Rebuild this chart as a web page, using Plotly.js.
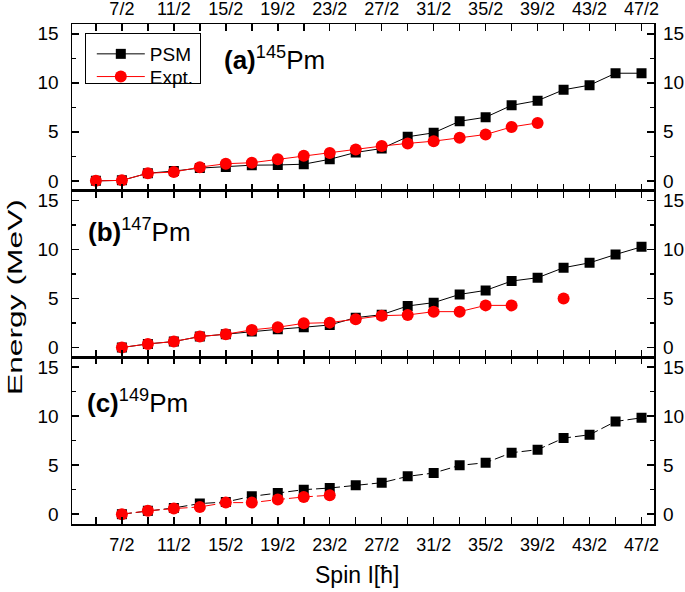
<!DOCTYPE html>
<html>
<head>
<meta charset="utf-8">
<script src="https://cdn.plot.ly/plotly-3.0.1.min.js"></script>
<style>html,body{margin:0;padding:0;background:#fff;}</style>
</head>
<body>
<div id="chart" style="width:685px;height:592px;"></div>
<script>
// ---- data ----
const spinA = [2.5,3.5,4.5,5.5,6.5,7.5,8.5,9.5,10.5,11.5,12.5,13.5,14.5,15.5,16.5,17.5,18.5,19.5,20.5,21.5,22.5,23.5];
const psmA  = [0,0.05,0.78,1.0,1.3,1.42,1.6,1.62,1.7,2.2,2.9,3.3,4.5,4.9,6.08,6.49,7.7,8.18,9.29,9.76,10.98,10.98];
const spinExptA = [2.5,3.5,4.5,5.5,6.5,7.5,8.5,9.5,10.5,11.5,12.5,13.5,14.5,15.5,16.5,17.5,18.5,19.5];
const exptA = [0,0.05,0.78,0.9,1.4,1.75,1.85,2.2,2.55,2.85,3.2,3.55,3.82,4.05,4.39,4.73,5.5,5.91];

const spinB = [3.5,4.5,5.5,6.5,7.5,8.5,9.5,10.5,11.5,12.5,13.5,14.5,15.5,16.5,17.5,18.5,19.5,20.5,21.5,22.5,23.5];
const psmB  = [0,0.37,0.61,1.12,1.36,1.63,1.86,2.07,2.3,3.05,3.35,4.24,4.58,5.42,5.83,6.78,7.12,8.14,8.64,9.49,10.27];
const spinExptB = [3.5,4.5,5.5,6.5,7.5,8.5,9.5,10.5,11.5,12.5,13.5,14.5,15.5,16.5,17.5,18.5,19.5,20.5];
const exptB = [0,0.37,0.61,1.12,1.36,1.8,2.07,2.47,2.54,2.88,3.25,3.32,3.66,3.66,4.3,4.3,null,5.0];

const spinC = [3.5,4.5,5.5,6.5,7.5,8.5,9.5,10.5,11.5,12.5,13.5,14.5,15.5,16.5,17.5,18.5,19.5,20.5,21.5,22.5,23.5];
const psmC  = [0,0.34,0.64,1.08,1.25,1.82,2.16,2.5,2.67,2.95,3.21,3.86,4.2,4.98,5.25,6.27,6.58,7.76,8.1,9.46,9.83];
const spinExptC = [3.5,4.5,5.5,6.5,7.5,8.5,9.5,10.5,11.5];
const exptC = [0,0.34,0.57,0.74,1.18,1.18,1.49,1.76,1.93];

const spinTickVals = [3.5,5.5,7.5,9.5,11.5,13.5,15.5,17.5,19.5,21.5,23.5];
const spinTickText = ['7/2','11/2','15/2','19/2','23/2','27/2','31/2','35/2','39/2','43/2','47/2'];
const energyTickVals = [0,5,10,15];
const panelLabels = ['<b>(a)</b><sup>145</sup>Pm','<b>(b)</b><sup>147</sup>Pm','<b>(c)</b><sup>149</sup>Pm'];
const seriesNames = ['PSM','Expt.'];

// ---- styling ----
const FONT = 'Liberation Sans, Arial, sans-serif';
const psmStyle = (dash, show) => ({mode:'lines+markers', name:seriesNames[0], showlegend:show,
  line:{color:'#000', width:1, dash:dash}, marker:{symbol:'square', size:10, color:'#000'}});
const exptStyle = (dash, show) => ({mode:'lines+markers', name:seriesNames[1], showlegend:show,
  line:{color:'#ff0000', width:1, dash:dash}, marker:{symbol:'circle', size:12, color:'#ff0000'}});

const traces = [
  Object.assign({x:spinA, y:psmA, xaxis:'x', yaxis:'y'}, psmStyle('solid', true)),
  Object.assign({x:spinExptA, y:exptA, xaxis:'x', yaxis:'y'}, exptStyle('solid', true)),
  Object.assign({x:spinB, y:psmB, xaxis:'x2', yaxis:'y2'}, psmStyle('solid', false)),
  Object.assign({x:spinExptB, y:exptB, xaxis:'x2', yaxis:'y2', connectgaps:false}, exptStyle('solid', false)),
  Object.assign({x:spinC, y:psmC, xaxis:'x3', yaxis:'y3'}, psmStyle('10px,4px', false)),
  Object.assign({x:spinExptC, y:exptC, xaxis:'x3', yaxis:'y3'}, exptStyle('10px,4px', false)),
  {x:[null], y:[null], xaxis:'x', yaxis:'y4', showlegend:false, hoverinfo:'skip', mode:'markers'},
  {x:[null], y:[null], xaxis:'x2', yaxis:'y5', showlegend:false, hoverinfo:'skip', mode:'markers'},
  {x:[null], y:[null], xaxis:'x3', yaxis:'y6', showlegend:false, hoverinfo:'skip', mode:'markers'}
];

const XR = [1.58, 23.98];
const YR = [-1, 16];
function xax(anchor, side, labels, standoff){
  return {anchor:anchor, side:side, range:XR, domain:[0,1], showline:true, linecolor:'#000', linewidth:1.5,
    mirror:'allticks', ticks:'inside', ticklen:7, tickwidth:1.5, tickcolor:'#000',
    tickmode:'array', tickvals:spinTickVals, ticktext:spinTickText, showticklabels:labels,
    minor:{tickmode:'linear', tick0:2.5, dtick:1, ticks:'inside', ticklen:4, tickwidth:1.5, tickcolor:'#000'},
    showgrid:false, zeroline:false, tickfont:{family:FONT, size:18, color:'#000'}, ticklabelstandoff:standoff};
}
function yax(anchor, dom){
  return {anchor:anchor, domain:dom, range:YR, showline:true, linecolor:'#000', linewidth:1.5,
    mirror:'allticks', ticks:'inside', ticklen:7, tickwidth:1.5, tickcolor:'#000',
    tickmode:'array', tickvals:energyTickVals,
    minor:{tickmode:'linear', tick0:0, dtick:2.5, ticks:'inside', ticklen:4, tickwidth:1.5, tickcolor:'#000'},
    showgrid:false, zeroline:false, tickfont:{family:FONT, size:19, color:'#000'}, ticklabelstandoff:8};
}
function yaxR(over, anchor){
  return {overlaying:over, anchor:anchor, side:'right', range:YR, showline:false, ticks:'',
    tickmode:'array', tickvals:energyTickVals, showgrid:false, zeroline:false,
    tickfont:{family:FONT, size:19, color:'#000'}, ticklabelstandoff:8};
}

const layout = {
  width:685, height:592,
  margin:{l:72, r:31, t:24, b:67.5},
  paper_bgcolor:'#fff', plot_bgcolor:'#fff',
  font:{family:FONT, color:'#000'},
  xaxis: xax('y','top',true,0),
  xaxis2: xax('y2','bottom',false,0),
  xaxis3: xax('y3','bottom',true,4),
  yaxis: yax('x',[2/3,1]),
  yaxis2: yax('x2',[1/3,2/3]),
  yaxis3: yax('x3',[0,1/3]),
  yaxis4: yaxR('y','x'),
  yaxis5: yaxR('y2','x2'),
  yaxis6: yaxR('y3','x3'),
  showlegend:true,
  legend:{x:0.022, y:0.982, xanchor:'left', yanchor:'top', bgcolor:'#fff', bordercolor:'#000', borderwidth:1,
    font:{family:FONT, size:19, color:'#000'}, itemwidth:48, tracegroupgap:0},
  annotations:[
    {text:panelLabels[0], xref:'paper', yref:'paper', x:0.2576, y:0.930, xanchor:'left', yanchor:'middle', showarrow:false, font:{family:FONT, size:26, color:'#000'}},
    {text:panelLabels[1], xref:'paper', yref:'paper', x:0.024, y:0.588, xanchor:'left', yanchor:'middle', showarrow:false, font:{family:FONT, size:26, color:'#000'}},
    {text:panelLabels[2], xref:'paper', yref:'paper', x:0.022, y:0.245, xanchor:'left', yanchor:'middle', showarrow:false, font:{family:FONT, size:26, color:'#000'}},
    {text:'Energy (MeV)', xref:'paper', yref:'paper', x:-0.0979, y:0.4545, xanchor:'center', yanchor:'middle', textangle:-90, showarrow:false, font:{family:FONT, size:21, color:'#000'}},
    {text:'Spin I[ħ]', xref:'paper', yref:'paper', x:(357-72)/582.3, y:-(576-524.5)/500.5, xanchor:'center', yanchor:'middle', showarrow:false, font:{family:FONT, size:23, color:'#000'}}
  ]
};

function parseT(tr){
  const m = /translate\(\s*([-\d.e]+)[ ,]+([-\d.e]+)\s*\)/.exec(tr || '');
  return m ? [parseFloat(m[1]), parseFloat(m[2])] : [0,0];
}

Plotly.newPlot('chart', traces, layout, {displayModeBar:false, staticPlot:true}).then(() => {
  // stretch the y title like the reference
  document.querySelectorAll('.annotation-text').forEach(t => {
    if (t.textContent === 'Energy (MeV)') {
      const b = t.getBBox();
      const cx = b.x + b.width/2, cy = b.y + b.height/2;
      const s = 196 / b.width;
      const prev = t.getAttribute('transform') || '';
      t.setAttribute('transform', prev + ` translate(${cx},${cy}) scale(${s},1) translate(${-cx},${-cy})`);
    }
  });
  // tighten legend rows to match reference spacing
  const leg = document.querySelector('.legend');
  if (leg) {
    const sb = leg.querySelector('.scrollbox');
    if (sb) sb.removeAttribute('clip-path');
    const items = leg.querySelectorAll('.traces');
    if (items.length === 2) {
      const p0 = parseT(items[0].getAttribute('transform'));
      const p1 = parseT(items[1].getAttribute('transform'));
      const rowGap = 22.7;
      items[0].setAttribute('transform', `translate(${p0[0] + 6},${p0[1] + 1})`);
      items[1].setAttribute('transform', `translate(${p1[0] + 6},${p0[1] + 1 + rowGap})`);
      const bg = leg.querySelector('rect.bg');
      if (bg) {
        bg.setAttribute('height', 50);
        bg.setAttribute('width', 115);
      }
    }
  }
});
</script>
</body>
</html>
